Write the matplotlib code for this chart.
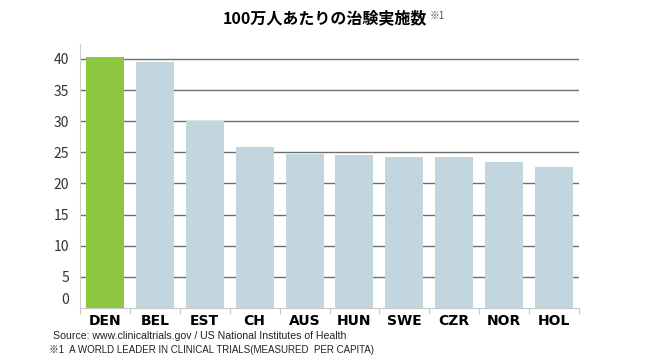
import numpy as np
import matplotlib.pyplot as plt
import matplotlib.transforms as mtransforms

plt.rcParams['font.family'] = ['Noto Sans CJK JP', 'DejaVu Sans']

# data
countries = ["DEN", "BEL", "EST", "CH", "AUS", "HUN", "SWE", "CZR", "NOR", "HOL"]
trials = [40.3, 39.5, 30.0, 25.9, 24.7, 24.6, 24.3, 24.3, 23.4, 22.6]
yticks = [0, 5, 10, 15, 20, 25, 30, 35, 40]

title = "100万人あたりの治験実施数"
source = "Source: www.clinicaltrials.gov / US National Institutes of Health"
note = "※1  A WORLD LEADER IN CLINICAL TRIALS(MEASURED  PER CAPITA)"

green = "#8DC63F"
grey_blue = "#C3D6DF"
colors = [green] + [grey_blue] * (len(countries) - 1)

fig = plt.figure(figsize=(6.5, 3.6), dpi=100)
ax = fig.add_axes([80 / 650, 52 / 360, 499 / 650, 264 / 360])

x = np.arange(len(countries))
ax.bar(x, trials, width=0.76, color=colors, zorder=3)

ax.set_xlim(-0.5, len(countries) - 0.5)
ax.set_ylim(0, 42.4)

# grid
ax.set_yticks(yticks)
for v in yticks[1:]:
    ax.axhline(v, color="#6e6e6e", lw=1, zorder=1)
ax.tick_params(axis="y", length=0, pad=8, labelsize=10, labelcolor="#333333")

# category labels + separator ticks
ax.set_xticks(x)
ax.set_xticklabels(countries, fontsize=10, fontweight="bold", color="black",
                   family="DejaVu Sans")
ax.tick_params(axis="x", length=0, pad=4)
ax.set_xticks(np.arange(len(countries) + 1) - 0.5, minor=True)
ax.tick_params(axis="x", which="minor", length=4, color="#c8c8c8", width=0.8)

for s in ["top", "right"]:
    ax.spines[s].set_visible(False)
ax.spines["left"].set_color("#d0d0d0")
ax.spines["bottom"].set_color("#c8c8c8")

# the zero label sits a little above the baseline in the original
lab0 = ax.get_yticklabels()[0]
lab0.set_transform(lab0.get_transform() +
                   mtransforms.ScaledTranslation(0, 9 / 100, fig.dpi_scale_trans))

fig.text(325 / 650, 1 - 18 / 360, title, ha="center", va="center",
         fontsize=11.5, fontweight="bold")
fig.text(430 / 650, 1 - 16 / 360, "※1", ha="left", va="center",
         fontsize=7, color="#555555")
fig.text(53 / 650, 1 - 336 / 360, source, ha="left", va="center",
         fontsize=7.6, color="#222222", family=["Liberation Sans", "DejaVu Sans"])
fig.text(49 / 650, 1 - 350 / 360, note, ha="left", va="center",
         fontsize=7, color="#222222",
         family=["Liberation Sans", "Noto Sans CJK JP"])

fig.savefig("out.png", dpi=100)
